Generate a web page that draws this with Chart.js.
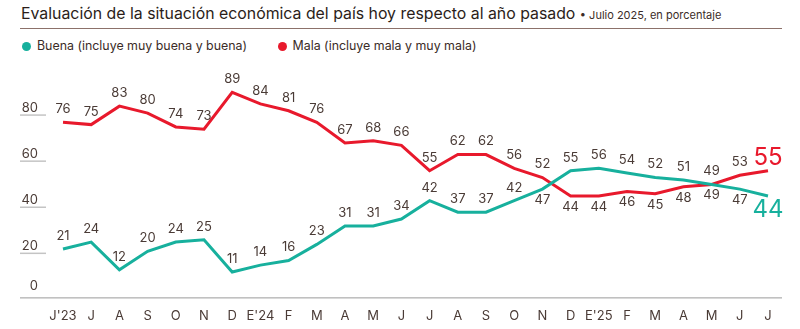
<!DOCTYPE html>
<html>
<head>
<meta charset="utf-8">
<script src="https://cdn.jsdelivr.net/npm/chart.js@4"></script>
<style>
  html, body { margin: 0; padding: 0; background: #fff; overflow: hidden; }
  #wrap { position: relative; width: 800px; height: 329px; overflow: hidden; font-family: Inter, "Noto Sans", sans-serif; color: #3b2c27; }
  #title { position: absolute; left: 21px; top: 4px; white-space: nowrap; font-size: 15.85px; font-weight: 400; color: #2b1d19; }
  #title span { font-size: 11px; font-weight: 400; color: #3b2c27; }
  #rule { position: absolute; left: 20px; top: 28px; width: 762px; height: 1px; background: #8c716a; }
  #legend { position: absolute; left: 22px; top: 38px; font-size: 12.4px; white-space: nowrap; }
  #legend .item { display: inline-block; margin-right: 27px; }
  #legend .dot { display: inline-block; width: 9px; height: 9px; border-radius: 50%; margin-right: 6px; vertical-align: -1px; }
  #chartBox { position: absolute; left: 0; top: 0; width: 800px; height: 335px; }
</style>
</head>
<body>
<div id="wrap">
  <div id="title">Evaluación de la situación económica del país hoy respecto al año pasado <span>• Julio 2025, en porcentaje</span></div>
  <div id="rule"></div>
  <div id="legend">
    <span class="item"><span class="dot" style="background:#17b09d"></span>Buena (incluye muy buena y buena)</span>
    <span class="item"><span class="dot" style="background:#e8192c"></span>Mala (incluye mala y muy mala)</span>
  </div>
  <div id="chartBox"><canvas id="chart"></canvas></div>
</div>
<script>
const months = ["J'23", 'J', 'A', 'S', 'O', 'N', 'D', "E'24", 'F', 'M', 'A', 'M', 'J', 'J', 'A', 'S', 'O', 'N', 'D', "E'25", 'F', 'M', 'A', 'M', 'J', 'J'];
const buena = [21, 24, 12, 20, 24, 25, 11, 14, 16, 23, 31, 31, 34, 42, 37, 37, 42, 47, 55, 56, 54, 52, 51, 49, 47, 44];
const mala = [76, 75, 83, 80, 74, 73, 89, 84, 81, 76, 67, 68, 66, 55, 62, 62, 56, 52, 44, 44, 46, 45, 48, 49, 53, 55];
const yTicks = [0, 20, 40, 60, 80];

const teal = '#17b09d';
const red = '#e8192c';
const textColor = '#4a3b36';
const font = 'Inter, "Noto Sans", sans-serif';

// y labels with the little stub lines, plus the base line
const axisPlugin = {
  id: 'axisPlugin',
  afterDraw(chart) {
    const ctx = chart.ctx;
    const y = chart.scales.y;
    ctx.save();
    ctx.font = '13px ' + font;
    ctx.fillStyle = textColor;
    ctx.textAlign = 'right';
    ctx.textBaseline = 'middle';
    yTicks.forEach(v => {
      const py = y.getPixelForValue(v);
      if (v === 0) {
        ctx.fillText('0', 38, py - 11);
        ctx.strokeStyle = '#9a9a9a';
        ctx.lineWidth = 1;
        ctx.beginPath();
        ctx.moveTo(20, py + 0.5);
        ctx.lineTo(782, py + 0.5);
        ctx.stroke();
      } else {
        ctx.fillText(String(v), 38, py - 5);
        ctx.strokeStyle = '#c4c4c4';
        ctx.lineWidth = 1.5;
        ctx.beginPath();
        ctx.moveTo(20, py + 2);
        ctx.lineTo(46, py + 2);
        ctx.stroke();
      }
    });
    ctx.restore();
  }
};

// value labels on every point
const labelPlugin = {
  id: 'labelPlugin',
  afterDatasetsDraw(chart) {
    const ctx = chart.ctx;
    const mb = chart.getDatasetMeta(0).data;
    const mm = chart.getDatasetMeta(1).data;
    const last = months.length - 1;
    ctx.save();
    ctx.textAlign = 'center';
    ctx.textBaseline = 'middle';
    months.forEach((_, i) => {
      const gap = Math.abs(mala[i] - buena[i]);
      const close = gap <= 12;
      // when the lines are close, the lower one gets its label below
      const buenaBelow = close && buena[i] < mala[i];
      const malaBelow = close && mala[i] <= buena[i];
      const items = [
        { v: buena[i], p: mb[i], below: buenaBelow, color: teal },
        { v: mala[i], p: mm[i], below: malaBelow, color: red }
      ];
      items.forEach(it => {
        if (i === last) {
          ctx.font = '24px ' + font;
          ctx.fillStyle = it.color;
          ctx.fillText(String(it.v), it.p.x, it.p.y + (it.below ? 14 : -13));
        } else {
          ctx.font = '13px ' + font;
          ctx.fillStyle = textColor;
          ctx.fillText(String(it.v), it.p.x, it.p.y + (it.below ? 11 : -13));
        }
      });
    });
    ctx.restore();
  }
};

new Chart(document.getElementById('chart'), {
  type: 'line',
  data: {
    labels: months,
    datasets: [
      { label: 'Buena (incluye muy buena y buena)', data: buena, borderColor: teal, backgroundColor: teal, borderWidth: 3, pointRadius: 0, tension: 0 },
      { label: 'Mala (incluye mala y muy mala)', data: mala, borderColor: red, backgroundColor: red, borderWidth: 3, pointRadius: 0, tension: 0 }
    ]
  },
  options: {
    responsive: true,
    maintainAspectRatio: false,
    animation: false,
    layout: { padding: { left: 63, right: 32, top: 67, bottom: 0 } },
    plugins: { legend: { display: false }, tooltip: { enabled: false } },
    scales: {
      x: {
        offset: false,
        grid: { display: false, drawTicks: false },
        border: { display: false },
        ticks: { color: textColor, font: { family: font, size: 13 }, padding: 11, autoSkip: false, maxRotation: 0 }
      },
      y: { display: false, min: 0, max: 100 }
    }
  },
  plugins: [axisPlugin, labelPlugin]
});
</script>
</body>
</html>
